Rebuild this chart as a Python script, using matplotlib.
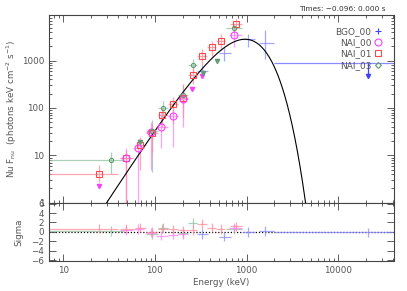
import numpy as np
import matplotlib
matplotlib.use("Agg")
import matplotlib.pyplot as plt
from matplotlib.lines import Line2D

# ---- data ----
# NAI_01 (red squares)
n1_E = [24.3, 49, 68.6, 92, 121, 158, 204, 258, 328, 415, 520, 764]
n1_Elo = [7, 42, 60, 80, 107, 140, 180, 228, 290, 370, 460, 660]
n1_Ehi = [40, 57, 80, 107, 140, 180, 228, 290, 370, 460, 580, 900]
n1_F = [4.1, 8.6, 16.5, 30, 71, 120, 160, 500, 1280, 1920, 2650, 5970]
n1_Flo = [2.7, 1.0, 5.0, 12, 40, 45, 60, 320, 800, 1250, 1700, 4500]
n1_Fhi = [6.3, 13, 24, 45, 100, 170, 320, 700, 1750, 2600, 3600, 7600]
n1_res = [0.7, 0.7, 0.9, 0.0, 0.7, 0.5, 0.3, 0.4, 1.7, 0.9, 0.6, 1.2]

# NAI_00 (magenta circles)
n0_E = [49, 65.8, 89.8, 118, 156, 200, 733]
n0_Elo = [42, 58, 79, 104, 138, 177, 640]
n0_Ehi = [57, 76, 104, 138, 177, 228, 880]
n0_F = [9.0, 14, 31.5, 40, 69, 157, 3490]
n0_Flo = [1.0, 1.0, 4.9, 14, 15, 40, 1900]
n0_Fhi = [14, 22, 51, 78, 110, 240, 4400]
n0_res = [0.3, 0.6, -0.2, -0.8, -0.6, -0.5, 0.9]
n0_ulE = [24.3, 251, 323]
n0_ulF = [2.25, 252, 480]

# NAI_03 (green circles)
n3_E = [33, 92, 123, 204, 258, 733]
n3_Elo = [7, 80, 107, 180, 228, 600]
n3_Ehi = [46, 107, 140, 228, 290, 900]
n3_F = [7.95, 33, 99, 188, 811, 4840]
n3_Flo = [4.0, 4.5, 60, 100, 560, 3500]
n3_Fhi = [12, 55, 140, 300, 1100, 6000]
n3_res = [0.2, -0.5, 0.9, -0.3, 1.9, 0.5]
n3_ulE = [68.6, 331, 471]
n3_ulF = [19.5, 541, 1000]

# BGO_00 (blue)
b0_E = [330, 565, 1042, 1585]
b0_Elo = [290, 500, 880, 1350]
b0_Ehi = [380, 680, 1250, 1990]
b0_F = [590, 1430, 2830, 2400]
b0_Flo = [420, 1000, 1900, 1100]
b0_Fhi = [800, 1900, 3600, 4500]
b0_res = [-0.5, -1.0, 0.0, 0.2]
b0_ulE = [20900]
b0_ulElo = [1990]
b0_ulEhi = [40000]
b0_ulF = [881]
b0_ulres = [-0.1]

# blackbody model: kT (keV), peak value
bb_kT = 245.0
bb_peakF = 2830.0

C_RED, C_RED_E = "#ff4a4a", "#ff8a9a"
C_MAG, C_MAG_E = "#ff3cff", "#ff80ff"
C_GRN, C_GRN_E = "#5f9a72", "#90c0a0"
C_BLU, C_BLU_E = "#3f3fff", "#8a8aff"
GRAY = "#555555"

plt.rcParams["font.family"] = "DejaVu Sans"
plt.rcParams["font.size"] = 6.3

fig = plt.figure(figsize=(4.07, 2.91), dpi=100)
W, H = 407.0, 291.0
x0, x1 = 49, 393.5
ax = fig.add_axes([x0 / W, 1 - 202.7 / H, (x1 - x0) / W, (202.7 - 15) / H])
axr = fig.add_axes([x0 / W, 1 - 261 / H, (x1 - x0) / W, (261 - 202.7) / H])


def bars(a, E, Elo, Ehi, F, Flo, Fhi, ecol, lw=0.9):
    E = np.array(E); F = np.array(F)
    a.errorbar(E, F, xerr=[E - np.array(Elo), np.array(Ehi) - E],
               yerr=[F - np.array(Flo), np.array(Fhi) - F],
               fmt="none", ecolor=ecol, elinewidth=lw, alpha=0.75, zorder=2)


bars(ax, n3_E, n3_Elo, n3_Ehi, n3_F, n3_Flo, n3_Fhi, C_GRN_E)
bars(ax, n0_E, n0_Elo, n0_Ehi, n0_F, n0_Flo, n0_Fhi, C_MAG_E)
bars(ax, n1_E, n1_Elo, n1_Ehi, n1_F, n1_Flo, n1_Fhi, C_RED_E)
bars(ax, b0_E, b0_Elo, b0_Ehi, b0_F, b0_Flo, b0_Fhi, C_BLU_E)

ax.plot(n1_E, n1_F, "s", ms=5, mfc="none", mec=C_RED, mew=0.8, zorder=4)
ax.plot(n0_E, n0_F, "o", ms=5, mfc="none", mec=C_MAG, mew=0.8, zorder=4)
ax.plot(n3_E, n3_F, "o", ms=3, mfc="none", mec=C_GRN, mew=0.8, zorder=4)

# upper limits
for E, F, c in [(n0_ulE, n0_ulF, C_MAG), (n3_ulE, n3_ulF, C_GRN)]:
    ax.plot(E, F, "v", ms=3, color=c, zorder=4)
ax.hlines(b0_ulF, b0_ulElo, b0_ulEhi, color=C_BLU_E, lw=0.9, zorder=2)
for E, F in zip(b0_ulE, b0_ulF):
    ax.vlines(E, F * 0.55, F, color=C_BLU, lw=0.9)
    ax.plot(E, F * 0.55, "v", ms=3, color=C_BLU)

# model
Em = np.logspace(np.log10(7), np.log10(40000), 800)
xp = 3.92
norm = bb_peakF / ((xp * bb_kT) ** 4 / np.expm1(xp))
ax.plot(Em, norm * Em ** 4 / np.expm1(Em / bb_kT), color="black", lw=0.8, zorder=3)

ax.set_xscale("log")
ax.set_yscale("log")
ax.set_xlim(7, 40000)
ax.set_ylim(1, 9200)
ax.set_xticklabels([])
ax.set_yticks([1, 10, 100, 1000])
ax.set_yticklabels(["1", "10", "100", "1000"])
ax.set_ylabel(r"Nu F$_{\rm nu}$  (photons keV cm$^{-2}$ s$^{-1}$)", color=GRAY, labelpad=2)

handles = [
    Line2D([], [], ls="none", marker="+", ms=5, color=C_BLU, mew=0.8),
    Line2D([], [], ls="none", marker="o", ms=5, mfc="none", mec=C_MAG, mew=0.8),
    Line2D([], [], ls="none", marker="s", ms=5, mfc="none", mec=C_RED, mew=0.8),
    Line2D([], [], ls="none", marker="D", ms=3, mfc="none", mec=C_GRN, mew=0.8),
]
leg = ax.legend(handles, ["BGO_00", "NAI_00", "NAI_01", "NAI_03"], loc="upper right",
                bbox_to_anchor=(0.985, 0.97), frameon=False, markerfirst=False,
                handlelength=0.8, handletextpad=0.4, labelspacing=0.25, borderpad=0.2,
                fontsize=6.5)
for t in leg.get_texts():
    t.set_color(GRAY)

fig.text(386 / W, 1 - 9 / H, "Times: \u22120.096: 0.000 s", ha="right", va="center",
         fontsize=5.3, color="#333333")

# residuals
def rbars(E, Elo, Ehi, R, ecol):
    E = np.array(E)
    axr.errorbar(E, R, xerr=[E - np.array(Elo), np.array(Ehi) - E], yerr=1.0,
                 fmt="none", ecolor=ecol, elinewidth=0.9, alpha=0.75)


rbars(n3_E, n3_Elo, n3_Ehi, n3_res, C_GRN_E)
rbars(n0_E, n0_Elo, n0_Ehi, n0_res, C_MAG_E)
rbars(n1_E, n1_Elo, n1_Ehi, n1_res, C_RED_E)
rbars(b0_E, b0_Elo, b0_Ehi, b0_res, C_BLU_E)
rbars(b0_ulE, b0_ulElo, b0_ulEhi, b0_ulres, C_BLU_E)
axr.axhline(0, color="black", ls=(0, (1, 1.5)), lw=0.9, zorder=1)

axr.set_xscale("log")
axr.set_xlim(7, 40000)
axr.set_ylim(-6.2, 6.2)
axr.set_yticks([-6, -4, -2, 0, 2, 4, 6])
axr.set_xticks([10, 100, 1000, 10000])
axr.set_xticklabels(["10", "100", "1000", "10000"])
axr.set_ylabel("Sigma", color=GRAY, labelpad=6)
axr.set_xlabel("Energy (keV)", color=GRAY, labelpad=2)

for a in (ax, axr):
    for s in a.spines.values():
        s.set_color("#444444")
        s.set_linewidth(0.8)
    a.tick_params(which="both", direction="in", top=True, right=True, colors="#444444",
                  labelcolor=GRAY, labelsize=6.3, width=0.6)
    a.tick_params(which="major", length=5)
    a.tick_params(which="minor", length=2.5)
axr.yaxis.set_minor_locator(matplotlib.ticker.NullLocator())

fig.savefig("out.png", dpi=100)
